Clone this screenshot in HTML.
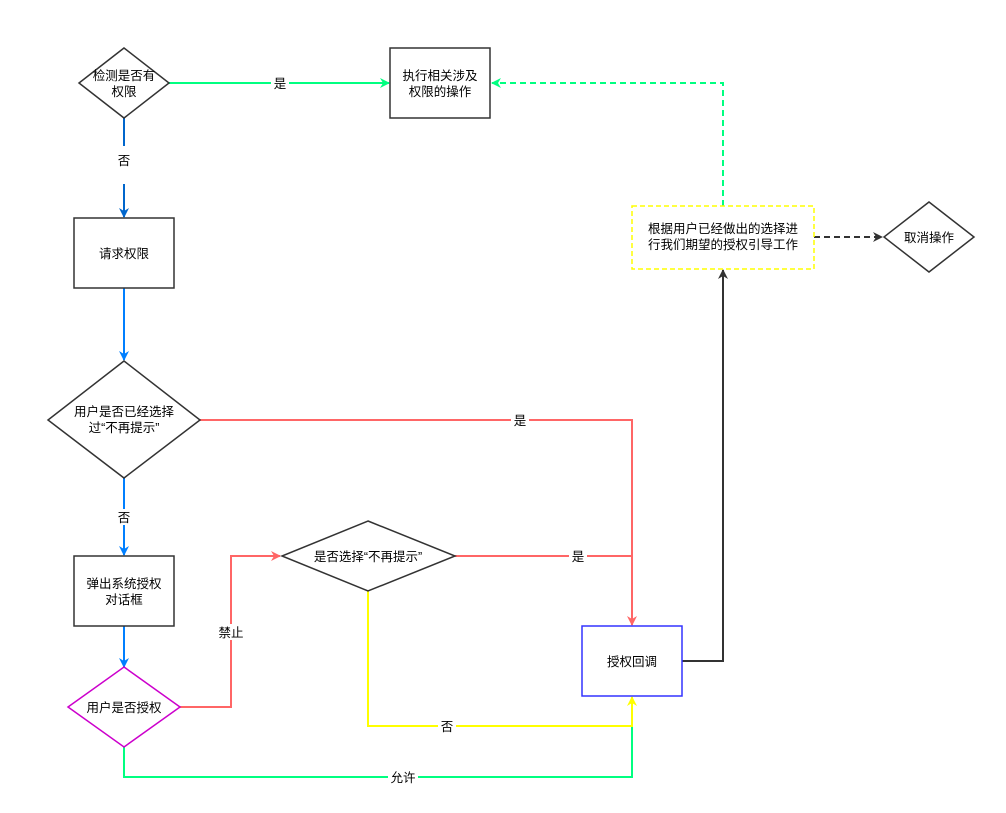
<!DOCTYPE html>
<html><head><meta charset="utf-8"><style>
html,body{margin:0;padding:0;background:#fff;}
svg text{font-family:"Liberation Sans","Noto Sans CJK SC",sans-serif;font-size:12.5px;fill:#000;}
</style></head><body>
<svg width="1006" height="808" viewBox="0 0 1006 808" xmlns="http://www.w3.org/2000/svg">
<defs>
<marker id="ag" markerWidth="10" markerHeight="10" refX="9" refY="5" orient="auto" markerUnits="userSpaceOnUse"><path d="M0,0 L10,5 L0,10 L3,5z" fill="#00ff80"/></marker>
<marker id="ab" markerWidth="10" markerHeight="10" refX="9" refY="5" orient="auto" markerUnits="userSpaceOnUse"><path d="M0,0 L10,5 L0,10 L3,5z" fill="#0066cc"/></marker>
<marker id="ab2" markerWidth="10" markerHeight="10" refX="9" refY="5" orient="auto" markerUnits="userSpaceOnUse"><path d="M0,0 L10,5 L0,10 L3,5z" fill="#007fff"/></marker>
<marker id="ar" markerWidth="10" markerHeight="10" refX="9" refY="5" orient="auto" markerUnits="userSpaceOnUse"><path d="M0,0 L10,5 L0,10 L3,5z" fill="#ff6666"/></marker>
<marker id="ay" markerWidth="10" markerHeight="10" refX="9" refY="5" orient="auto" markerUnits="userSpaceOnUse"><path d="M0,0 L10,5 L0,10 L3,5z" fill="#ffff00"/></marker>
<marker id="ak" markerWidth="10" markerHeight="10" refX="9" refY="5" orient="auto" markerUnits="userSpaceOnUse"><path d="M0,0 L10,5 L0,10 L3,5z" fill="#333"/></marker>
</defs>
<g fill="none" stroke-width="2">
<!-- connectors -->
<path d="M169,83 H389" stroke="#00ff80" marker-end="url(#ag)"/>
<path d="M124,118 V146 M124,184 V217" stroke="#0066cc" marker-end="url(#ab)"/>
<path d="M124,288 V360" stroke="#007fff" marker-end="url(#ab2)"/>
<path d="M200,420 H632 V625" stroke="#ff6666" marker-end="url(#ar)"/>
<path d="M124,478 V555" stroke="#007fff" marker-end="url(#ab2)"/>
<path d="M124,626 V667" stroke="#007fff" marker-end="url(#ab2)"/>
<path d="M180,707 H231 V556 H280" stroke="#ff6666" marker-end="url(#ar)"/>
<path d="M455,556 H632" stroke="#ff6666"/>
<path d="M124,747 V777 H632 V699" stroke="#00ff80"/>
<path d="M368,591 V726 H632 V697" stroke="#ffff00" marker-end="url(#ay)"/>
<path d="M682,661 H723 V270" stroke="#333" marker-end="url(#ak)"/>
<path d="M723,206 V83 H492" stroke="#00ff80" stroke-dasharray="6,4" marker-end="url(#ag)"/>
<path d="M814,237 H882" stroke="#333" stroke-dasharray="6,4" marker-end="url(#ak)"/>
<!-- shapes -->
<polygon points="124,48 169,83 124,118 79,83" fill="#fff" stroke="#333" stroke-width="1.5"/>
<rect x="390" y="48" width="100" height="70" fill="#fff" stroke="#333" stroke-width="1.5"/>
<rect x="74" y="218" width="100" height="70" fill="#fff" stroke="#333" stroke-width="1.5"/>
<polygon points="124,361 200,420 124,478 48,420" fill="#fff" stroke="#333" stroke-width="1.5"/>
<rect x="74" y="556" width="100" height="70" fill="#fff" stroke="#333" stroke-width="1.5"/>
<polygon points="124,667 180,707 124,747 68,707" fill="#fff" stroke="#cc00cc" stroke-width="1.5"/>
<polygon points="368,521 455,556 368,591 282,556" fill="#fff" stroke="#333" stroke-width="1.5"/>
<rect x="582" y="626" width="100" height="70" fill="#fff" stroke="#3333ff" stroke-width="1.5"/>
<rect x="632" y="206" width="182" height="63" fill="#fff" stroke="#ffff00" stroke-width="1.5" stroke-dasharray="5,3"/>
<polygon points="929,202 974,237 929,272 884,237" fill="#fff" stroke="#333" stroke-width="1.5"/>
</g>
<!-- label backgrounds -->
<g fill="#fff">
<rect x="271" y="75" width="18" height="16"/>
<rect x="511" y="412" width="18" height="16"/>
<rect x="115" y="509" width="18" height="16"/>
<rect x="216" y="624" width="30" height="16"/>
<rect x="569" y="548" width="18" height="16"/>
<rect x="438" y="718" width="18" height="16"/>
<rect x="388" y="769" width="30" height="16"/>
</g>
<g text-anchor="middle">
<text x="280" y="88">是</text>
<text x="124" y="165">否</text>
<text x="520" y="425">是</text>
<text x="124" y="522">否</text>
<text x="231" y="637">禁止</text>
<text x="578" y="561">是</text>
<text x="447" y="731">否</text>
<text x="403" y="782">允许</text>
<text x="124" y="80">检测是否有</text><text x="124" y="96">权限</text>
<text x="440" y="80">执行相关涉及</text><text x="440" y="96">权限的操作</text>
<text x="124" y="258">请求权限</text>
<text x="124" y="416">用户是否已经选择</text><text x="124" y="432">过“不再提示”</text>
<text x="124" y="588">弹出系统授权</text><text x="124" y="604">对话框</text>
<text x="124" y="712">用户是否授权</text>
<text x="368" y="561">是否选择“不再提示”</text>
<text x="632" y="666">授权回调</text>
<text x="723" y="233">根据用户已经做出的选择进</text><text x="723" y="249">行我们期望的授权引导工作</text>
<text x="929" y="242">取消操作</text>
</g>
</svg>
</body></html>
